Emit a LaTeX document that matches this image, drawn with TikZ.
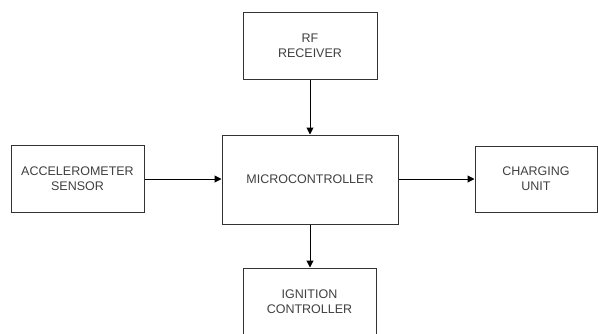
\documentclass[tikz,border=0pt]{standalone}
\usepackage{fontspec}
\setmainfont{Liberation Sans}
\usetikzlibrary{arrows.meta}
\definecolor{linec}{HTML}{333333}
\definecolor{textc}{HTML}{404040}
\tikzset{
  blk/.style={draw=linec, line width=1pt, fill=white, rectangle, inner sep=0pt, align=center,
    text=textc, font=\fontsize{12.5}{15}\selectfont},
  conn/.style={draw=black, line width=1pt, -{Triangle[length=7pt,width=7pt]}}
}
\begin{document}
\begin{tikzpicture}[x=1pt,y=-1pt]
\useasboundingbox (0,0) rectangle (598,333);
\begin{scope}
\clip (0,0) rectangle (598,333);
\node[blk, minimum width=134pt, minimum height=67pt] (rf) at (310,45.5) {RF\\RECEIVER};
\node[blk, minimum width=176pt, minimum height=89pt] (mc) at (310,179.5) {MICROCONTROLLER};
\node[blk, minimum width=133pt, minimum height=67pt] (acc) at (77.5,179) {ACCELEROMETER\\SENSOR};
\node[blk, minimum width=122pt, minimum height=66pt] (chg) at (536,179) {CHARGING\\UNIT};
\node[blk, minimum width=133pt, minimum height=67pt] (ign) at (309.5,301.5) {IGNITION\\CONTROLLER};
\draw[conn] (rf.south) -- (mc.north);
\draw[conn] (acc.east) -- (mc.west |- acc.east);
\draw[conn] (mc.east |- chg.west) -- (chg.west);
\draw[conn] (mc.south) -- (mc.south |- ign.north);
\end{scope}
\end{tikzpicture}
\end{document}
